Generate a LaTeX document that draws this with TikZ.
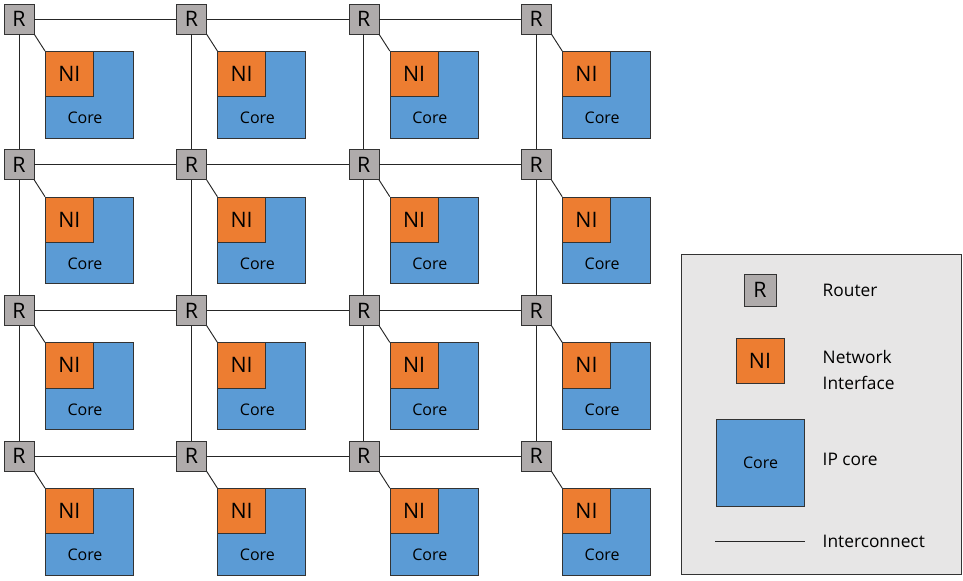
\documentclass[tikz,border=0pt]{standalone}
\usepackage{fontspec}
\setmainfont{Open Sans}
\usetikzlibrary{positioning}
\definecolor{routergray}{HTML}{AFABAB}
\definecolor{niorange}{HTML}{ED7D31}
\definecolor{coreblue}{HTML}{5B9BD5}
\definecolor{legendbg}{HTML}{E7E6E6}
\tikzset{
	router/.style={draw=black!80, fill=routergray, minimum size=22.5pt, inner sep=0pt, font=\fontsize{16}{19}\selectfont},
	ni/.style={draw=black!80, fill=niorange, minimum width=36pt, minimum height=34pt, inner sep=0pt, font=\fontsize{16}{19}\selectfont},
	core/.style={draw=black!80, fill=coreblue, minimum width=66pt, minimum height=65pt, inner sep=0pt, font=\fontsize{12}{14}\selectfont},
	link/.style={draw=black!85, line width=0.7pt},
	legendtext/.style={anchor=west, align=left, font=\fontsize{13}{19}\selectfont}
}
\begin{document}
\begin{tikzpicture}[x=0.75pt, y=-0.75pt]
		\useasboundingbox (0, 0) rectangle (963, 581);
		% tiles: router, core and network interface
		\foreach \i in {0, ..., 3}
			\foreach \j in {0, ..., 3}
			{
				\pgfmathsetmacro\px{19 + 172.4*\i}
				\pgfmathsetmacro\py{19 + 145.7*\j}
				\node[router] (r\i\j) at (\px, \py) {R};
				\node[core, anchor=north west] (c\i\j) at (\px + 26, \py + 32) {};
				\node[ni, anchor=north west] (n\i\j) at (c\i\j.north west) {NI};
				\node[font=\fontsize{12}{14}\selectfont] (t\i\j) at (\px + 66, \py + 99) {Core};
				\draw[link] (r\i\j.south east) -- (n\i\j.north west);
			}
		% mesh links
		\foreach \i in {0, ..., 3}
			\foreach \j in {0, 1, 2}
			{
				\pgfmathtruncatemacro\k{\j + 1}
				\draw[link] (r\i\j) -- (r\i\k);
				\draw[link] (r\j\i) -- (r\k\i);
			}
		% legend
		\node[draw=black!80, fill=legendbg, anchor=north west, minimum width=210pt, minimum height=240pt] (legend) at (681, 254) {};
		\node[router, minimum size=24pt] (lr) at (760, 290) {R};
		\node[ni] (lni) at (760, 361) {NI};
		\node[core] (lcore) at (760.5, 463) {Core};
		\coordinate (la) at (715, 541);
		\coordinate (lb) at (805, 541);
		\draw[link] (la) -- (lb);
		\node[legendtext] (tr) at (818, 290) {Router};
		\node[legendtext] (tni) at (818, 370) {Network\\Interface};
		\node[legendtext] (tcore) at (818, 459) {IP core};
		\node[legendtext] (tlink) at (818, 541) {Interconnect};
	\end{tikzpicture}
\end{document}
